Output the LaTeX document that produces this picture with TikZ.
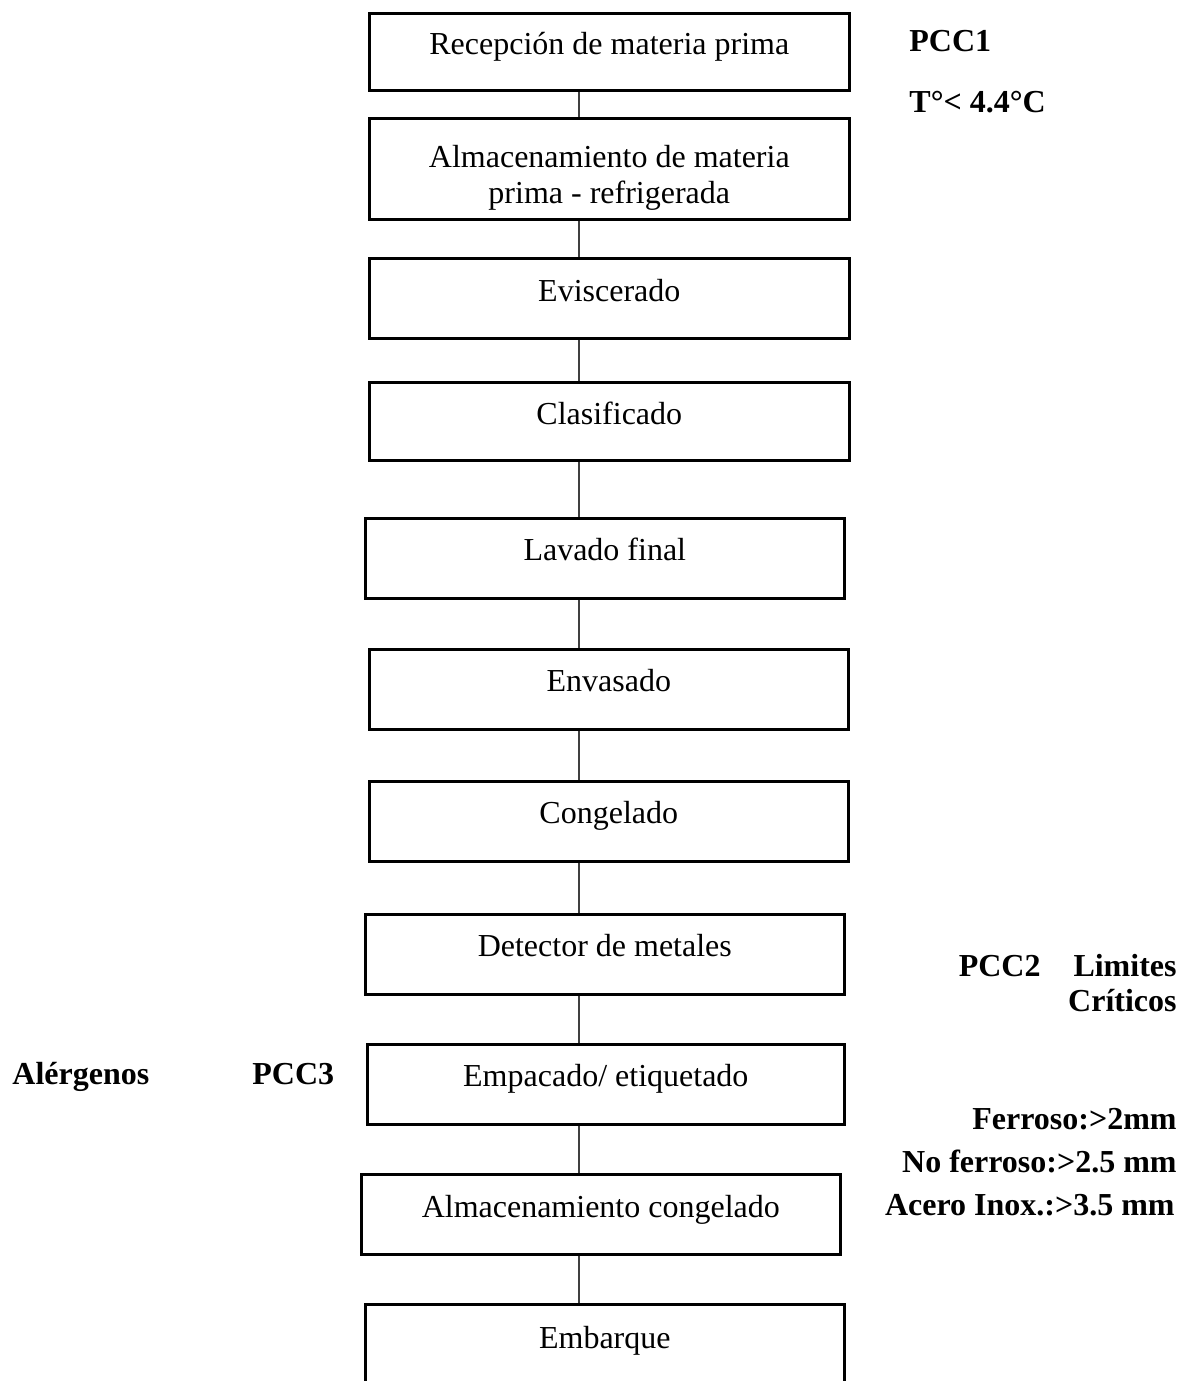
\documentclass[tikz,border=0pt]{standalone}
\usepackage{fontspec}
\setmainfont{Liberation Serif}
\begin{document}
\begin{tikzpicture}[x=0.5pt,y=-0.5pt,
  box/.style={draw=black, line width=1.3pt, anchor=north west, inner sep=0pt,
    minimum width=240pt, minimum height=40pt, text height=21pt, text depth=19pt,
    font=\fontsize{16}{18}\selectfont},
  conn/.style={draw=black!75, line width=0.65pt},
  note/.style={font=\fontsize{16}{18}\selectfont\bfseries, inner sep=0pt}]
\useasboundingbox (0,0) rectangle (1184,1381);
\fill[white] (0,0) rectangle (1184,1381);

% process boxes
\node[box, minimum height=38.5pt, text height=20.5pt, text depth=18pt] (b1) at (368,12) {Recepción de materia prima};
\node[box, minimum height=50.5pt, text height=24.5pt, text depth=26pt] (b2) at (368,117)
  {\begin{tabular}[t]{@{}c@{}}Almacenamiento de materia\\prima - refrigerada\end{tabular}};
\node[box, text height=21.5pt, text depth=18.5pt] (b3) at (368,257) {Eviscerado};
\node[box, minimum height=39pt, text height=21pt, text depth=18pt] (b4) at (368,381) {Clasificado};
\node[box, minimum width=239.5pt] (b5) at (364,517) {Lavado final};
\node[box, minimum width=239.5pt] (b6) at (368,648) {Envasado};
\node[box, minimum width=239.5pt] (b7) at (368,780) {Congelado};
\node[box, minimum width=239.5pt] (b8) at (364,913) {Detector de metales};
\node[box, minimum width=238.5pt] (b9) at (366,1043) {Empacado/ etiquetado};
\node[box, minimum width=239.5pt, text height=21.5pt, text depth=18.5pt] (b10) at (360,1173) {Almacenamiento congelado};
\node[box, minimum width=239.5pt, minimum height=50pt, text height=22pt, text depth=28pt] (b11) at (364,1303) {Embarque};

% connectors
\coordinate (cx) at (579,0);
\foreach \a/\b in {b1/b2,b2/b3,b3/b4,b4/b5,b5/b6,b6/b7,b7/b8,b8/b9,b9/b10,b10/b11}
  \draw[conn] (\a.south -| cx) -- (\b.north -| cx);

% annotations
\node[note, anchor=base west] (pcc1) at (909,51) {PCC1};
\node[note, anchor=base west] (temp) at (909,112) {T°< 4.4°C};
\node[note, anchor=base east] (pcc2) at (1177,976) {PCC2\hspace{16.5pt}Limites};
\node[note, anchor=base east] (crit) at (1177,1011) {Críticos};
\node[note, anchor=base east] (fe) at (1177,1129) {Ferroso:>2mm};
\node[note, anchor=base east] (nofe) at (1177,1172) {No ferroso:>2.5 mm};
\node[note, anchor=base east] (inox) at (1175,1215) {Acero Inox.:>3.5 mm};
\node[note, anchor=base west] (aler) at (12,1084) {Alérgenos};
\node[note, anchor=base west] (pcc3) at (252,1084) {PCC3};
\end{tikzpicture}
\end{document}
